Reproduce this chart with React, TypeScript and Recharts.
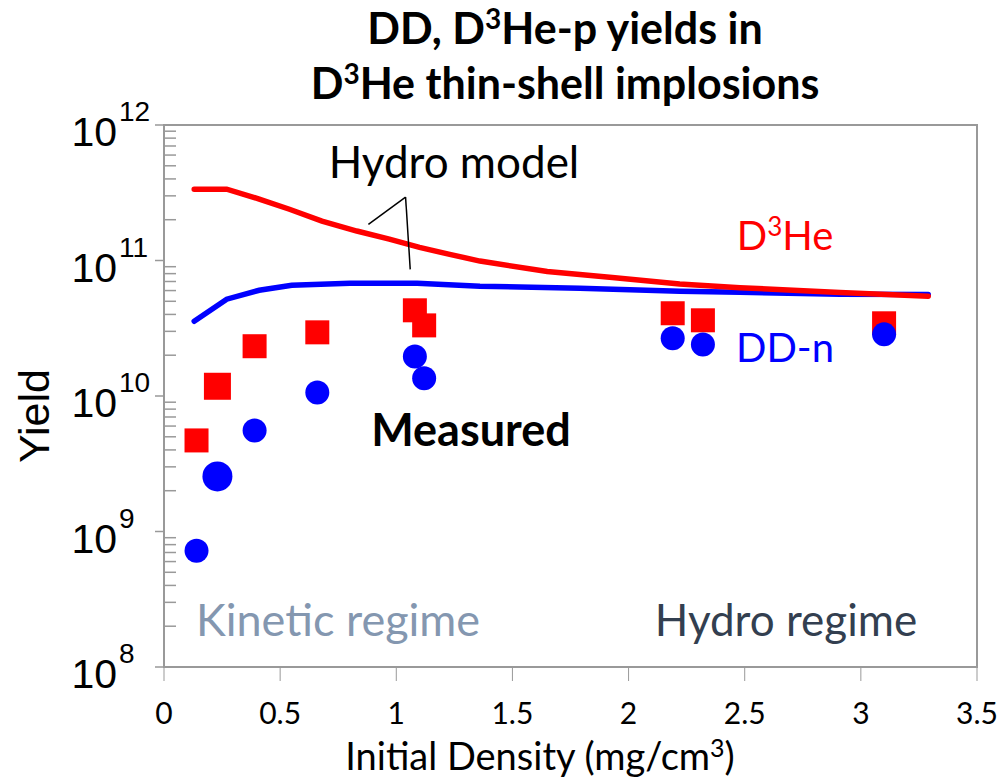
import React from "react";
import {
  ComposedChart,
  Line,
  Scatter,
  XAxis,
  YAxis,
  ReferenceArea,
  ReferenceLine,
} from "recharts";

// Hydro model curves (initial density in mg/cm3, yield)
const modelD3HeX = [0.13, 0.27, 0.41, 0.54, 0.68, 0.83, 0.97, 1.1, 1.23, 1.36, 1.65, 1.93, 2.22, 2.48, 2.91, 3.29];
const modelD3HeY = [3.36e11, 3.36e11, 2.84e11, 2.39e11, 1.95e11, 1.65e11, 1.44e11, 1.25e11, 1.11e11, 9.9e10, 8.3e10, 7.5e10, 6.7e10, 6.3e10, 5.8e10, 5.45e10];

const modelDDX = [0.13, 0.27, 0.41, 0.55, 0.8, 1.09, 1.36, 1.79, 2.22, 2.48, 2.91, 3.29];
const modelDDY = [3.56e10, 5.18e10, 6.03e10, 6.56e10, 6.79e10, 6.79e10, 6.46e10, 6.24e10, 5.93e10, 5.83e10, 5.64e10, 5.6e10];

// Measured shots
const shotDensity = [0.14, 0.23, 0.39, 0.66, 1.08, 1.12, 2.19, 2.32, 3.1];
const measuredD3He = [4.7e9, 1.18e10, 2.33e10, 2.95e10, 4.29e10, 3.32e10, 4.08e10, 3.62e10, 3.44e10];
const measuredDDn = [7.2e8, 2.55e9, 5.57e9, 1.06e10, 1.96e10, 1.35e10, 2.67e10, 2.4e10, 2.85e10];

const xTicks = [0, 0.5, 1, 1.5, 2, 2.5, 3, 3.5];
const decades = [1e8, 1e9, 1e10, 1e11, 1e12];
const minorTicks = decades.slice(0, -1).flatMap((d) => [2, 3, 4, 5, 6, 7, 8, 9].map((m) => m * d));

// "Hydro model" leader lines, in data coordinates
const leaderApex = { x: 1.04, y: 2.94e11 };
const leaderToD3He = { x: 0.88, y: 1.85e11 };
const leaderToDD = { x: 1.06, y: 8.6e10 };

const toPoints = (xs: number[], ys: number[]) => xs.map((x, i) => ({ x, y: ys[i] }));

const d3heModel = toPoints(modelD3HeX, modelD3HeY);
const ddModel = toPoints(modelDDX, modelDDY);
const d3heShots = toPoints(shotDensity, measuredD3He);
const ddShots = toPoints(shotDensity, measuredDDn);

const AXIS_GRAY = "#999999";
const SANS = "Lato, 'Open Sans', sans-serif";
const ARIAL = "'Liberation Sans', Arial, sans-serif";

const YTick = (props: any) => {
  const { x, y, payload } = props;
  const lg = Math.log10(payload.value);
  const exp = Math.round(lg);
  if (Math.abs(lg - exp) > 1e-6) {
    return <line x1={x} x2={x + 12} y1={y} y2={y} stroke={AXIS_GRAY} strokeWidth={1.5} />;
  }
  return (
    <g>
      <line x1={x - 9} x2={x} y1={y} y2={y} stroke={AXIS_GRAY} strokeWidth={1.5} />
      <text x={x - 47} y={y + 21} textAnchor="end" fontSize={41} fontFamily={ARIAL} fill="#000">
        10
      </text>
      <text x={x - 45} y={y - 4} fontSize={28} fontFamily={ARIAL} fill="#000">
        {exp}
      </text>
    </g>
  );
};

const SquareMark = (props: any) => {
  const { cx, cy, index } = props;
  const s = index === 1 ? 27 : 24;
  return <rect x={cx - s / 2} y={cy - s / 2} width={s} height={s} fill="#ff0000" />;
};

const CircleMark = (props: any) => {
  const { cx, cy, index } = props;
  const r = index === 1 ? 15 : 12;
  return <circle cx={cx} cy={cy} r={r} fill="#0000ff" />;
};

export default function App() {
  return (
    <div style={{ position: "absolute", left: 0, top: 0, width: 1000, height: 781, background: "#fff" }}>
      <ComposedChart width={1000} height={781} margin={{ top: 125, right: 23, bottom: 0, left: 0 }}>
        <XAxis
          dataKey="x"
          type="number"
          domain={[0, 3.5]}
          ticks={xTicks}
          interval={0}
          allowDataOverflow
          height={114}
          stroke={AXIS_GRAY}
          tickSize={14}
          tickMargin={22}
          tick={{ fill: "#000", fontSize: 30, fontFamily: SANS }}
        />
        <YAxis
          dataKey="y"
          type="number"
          scale="log"
          domain={[1e8, 1e12]}
          allowDataOverflow
          ticks={[...decades, ...minorTicks]}
          interval={0}
          width={164}
          stroke={AXIS_GRAY}
          tickLine={false}
          tickSize={0}
          tickMargin={0}
          tick={<YTick />}
        />
        <ReferenceArea x1={0} x2={3.5} y1={1e8} y2={1e12} fill="none" stroke={AXIS_GRAY} strokeWidth={2} />
        <Line data={ddModel} dataKey="y" type="linear" stroke="#0000ff" strokeWidth={5.5} strokeLinecap="round" dot={false} isAnimationActive={false} />
        <Line data={d3heModel} dataKey="y" type="linear" stroke="#ff0000" strokeWidth={5.5} strokeLinecap="round" dot={false} isAnimationActive={false} />
        <ReferenceLine segment={[leaderApex, leaderToD3He]} stroke="#000" strokeWidth={1.5} />
        <ReferenceLine segment={[leaderApex, leaderToDD]} stroke="#000" strokeWidth={1.5} />
        <Scatter data={d3heShots} dataKey="y" shape={<SquareMark />} isAnimationActive={false} />
        <Scatter data={ddShots} dataKey="y" shape={<CircleMark />} isAnimationActive={false} />
      </ComposedChart>

      <svg width={1000} height={781} style={{ position: "absolute", left: 0, top: 0, pointerEvents: "none" }} fontFamily={SANS}>
        <text x={565} y={44} textAnchor="middle" fontSize={43} fontWeight="bold" fill="#000">
          DD, D<tspan dy={-15} fontSize={28}>3</tspan><tspan dy={15}>He-p yields in</tspan>
        </text>
        <text x={565} y={99} textAnchor="middle" fontSize={43} fontWeight="bold" fill="#000">
          D<tspan dy={-15} fontSize={28}>3</tspan><tspan dy={15}>He thin-shell implosions</tspan>
        </text>
        <text x={454} y={178} textAnchor="middle" fontSize={44} fill="#000">Hydro model</text>
        <text x={785} y={250} textAnchor="middle" fontSize={40} fill="#ff0000">
          D<tspan dy={-14} fontSize={26}>3</tspan><tspan dy={14}>He</tspan>
        </text>
        <text x={785} y={362} textAnchor="middle" fontSize={40} fill="#0000ff">DD-n</text>
        <text x={471} y={446} textAnchor="middle" fontSize={45} fontWeight="bold" fill="#000">Measured</text>
        <text x={338} y={636} textAnchor="middle" fontSize={45} fill="#8497b0">Kinetic regime</text>
        <text x={786} y={636} textAnchor="middle" fontSize={44} fill="#333f50">Hydro regime</text>
        <text x={540} y={770} textAnchor="middle" fontSize={38} fill="#000">
          Initial Density (mg/cm<tspan dy={-13} fontSize={25}>3</tspan><tspan dy={13}>)</tspan>
        </text>
        <text transform="translate(49,416) rotate(-90)" textAnchor="middle" fontSize={43} fontFamily={ARIAL} fill="#000">
          Yield
        </text>
      </svg>
    </div>
  );
}
